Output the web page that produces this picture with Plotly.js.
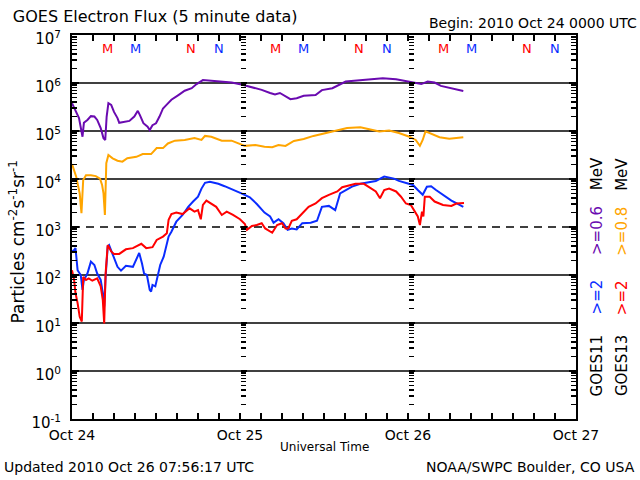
<!DOCTYPE html>
<html>
<head>
<meta charset="utf-8">
<script src="https://cdn.plot.ly/plotly-3.0.1.min.js"></script>
<style>html,body{margin:0;padding:0;background:#fff;}#chart{width:640px;height:480px;}</style>
</head>
<body>
<div id="chart"></div>
<script>
// ---- Data (hours after 2010-10-24 00:00 UTC, flux in particles cm^-2 s^-1 sr^-1) ----
const g11E06Hours = [0,0.5,1.0,1.5,1.7,2.2,2.7,3.2,3.6,4.1,4.5,4.75,4.95,5.2,5.6,6.0,6.5,6.75,7.5,8.2,8.9,9.4,9.7,10.2,10.8,11.1,11.5,12.0,12.5,13.0,13.5,14.2,15.2,16.1,17.1,17.8,18.7,19.9,21.4,22.8,24.2,25.7,27.1,28.3,29.0,29.7,30.5,31.2,32.1,33.1,34.8,35.7,37.2,38.1,39.1,40.3,41.2,42.4,44.4,46.3,48.2,49.9,50.8,51.8,52.7,53.9,54.9,55.9];
const g11E06Flux  = [3.8e5,2.75e5,1.86e5,7.6e4,1.48e5,1.7e5,2.04e5,2.0e5,1.7e5,1.15e5,7.1e4,6.5e4,2.0e5,3.8e5,3.5e5,2.5e5,1.86e5,1.48e5,1.55e5,1.62e5,2.0e5,2.63e5,2.14e5,1.45e5,1.23e5,1.05e5,1.32e5,1.45e5,2.0e5,2.95e5,3.5e5,4.47e5,5.6e5,6.9e5,7.8e5,9.5e5,1.15e6,1.12e6,1.05e6,1.02e6,9.3e5,8.3e5,7.2e5,6.2e5,5.75e5,6.2e5,5.4e5,4.6e5,4.8e5,5.4e5,5.6e5,7.1e5,7.8e5,9.1e5,1.07e6,1.12e6,1.15e6,1.2e6,1.26e6,1.2e6,1.07e6,9.5e5,1.07e6,1.02e6,8.7e5,7.9e5,7.4e5,6.8e5];

const g13E08Hours = [0,0.3,0.6,0.9,1.1,1.35,1.6,2.0,2.7,3.4,4.0,4.3,4.5,4.7,4.9,5.2,5.8,6.5,7.2,7.9,9.2,10.1,11.3,12.1,13.0,13.7,14.7,16.1,17.5,18.5,19.0,19.9,21.4,22.8,24.0,24.7,26.2,27.5,28.6,29.5,30.5,31.7,33.1,34.5,36.0,37.4,39.3,41.2,42.4,43.9,45.3,46.7,48.2,49.1,49.7,50.1,50.5,51.3,52.5,53.9,55.9];
const g13E08Flux  = [2.04e4,1.55e4,1.12e4,6.9e3,5.0e3,1.95e3,9.5e3,1.2e4,1.2e4,1.15e4,1.02e4,7.5e3,5.0e3,1.78e3,2.14e4,3.16e4,2.7e4,2.4e4,2.3e4,2.7e4,2.9e4,3.3e4,3.3e4,4.4e4,4.4e4,5.5e4,6.3e4,6.5e4,7.1e4,6.5e4,7.9e4,7.6e4,6.3e4,6.3e4,5.5e4,4.9e4,5.1e4,4.7e4,4.6e4,5.1e4,4.9e4,6.2e4,6.8e4,7.9e4,8.9e4,1.0e5,1.15e5,1.2e5,1.1e5,9.8e4,1.02e5,9.1e4,7.6e4,6.5e4,4.9e4,6.5e4,9.8e4,8.7e4,7.4e4,6.9e4,7.4e4];

const g11E2Hours = [0,0.3,0.5,0.8,1.25,1.5,1.7,2.2,2.7,3.2,3.6,4.1,4.4,4.6,4.8,5.1,5.3,5.8,6.5,7.0,7.7,8.7,9.4,9.6,10.0,10.3,10.7,11.1,11.3,11.5,11.9,12.3,12.6,13.1,13.5,13.8,14.2,14.9,15.8,16.6,17.3,18.0,18.5,19.0,19.7,20.9,21.8,23.0,24.2,25.4,26.4,27.5,28.3,28.8,29.5,30.2,30.8,31.4,32.1,32.9,34.1,35.0,35.7,36.7,37.6,38.3,39.1,40.0,41.2,42.0,43.4,44.6,46.0,46.7,47.7,48.7,49.4,50.1,50.7,51.3,52.0,53.0,54.2,55.1,55.9];
const g11E2Flux  = [310,330,363,126,100,49,79,107,190,162,107,79,42,22,91,389,420,282,148,123,155,148,240,288,174,107,100,49,45,62,58,107,162,240,389,631,794,1290,1780,2630,3390,4270,6310,8320,8710,7940,7080,6030,5010,4170,3020,2000,1660,1230,1450,1200,871,933,891,1200,1230,1350,2630,2750,2240,5010,5890,6920,7940,8320,9120,11200,10200,9120,8130,7500,5890,4680,6920,7080,5890,4680,3550,3020,2630];

const g13E2Hours = [0,0.3,0.5,0.8,1.1,1.4,1.6,2.0,2.4,2.9,3.6,4.1,4.4,4.6,4.8,5.1,5.6,6.0,6.75,7.7,8.7,9.9,10.6,11.5,12.1,13.0,13.55,13.8,14.2,14.9,15.8,16.8,17.5,18.0,18.4,18.7,19.2,19.9,20.6,21.4,22.1,23.0,24.0,24.7,25.0,25.7,26.4,27.1,27.6,28.6,29.3,30.0,30.5,30.9,31.4,32.1,32.9,33.8,34.8,35.7,36.7,37.9,38.6,39.6,40.5,41.7,42.7,43.4,44.0,44.6,45.3,46.3,47.0,47.7,48.4,49.0,49.4,49.7,50.0,50.2,50.4,51.1,51.8,53.0,54.2,54.9,56.0];
const g13E2Flux  = [126,79,42,26,13.5,10.7,91,79,85,76,85,58,30,9.8,107,420,309,275,275,343,363,447,363,380,537,631,741,1410,1860,2000,1860,2450,2090,2240,1450,2880,3550,3020,2630,1780,2090,1780,1450,1150,871,1050,1100,1200,933,759,1100,1200,933,933,1350,1450,1950,2630,3090,3980,4680,5500,6760,7500,7940,7940,6310,5500,3980,5890,6310,5500,4270,3090,2880,2090,1660,1100,2090,1660,4270,4270,3390,2880,2750,3090,3160];

// Local midnight (M) / noon (N) markers: hours after start
const markerHours  = [5, 9, 17, 21, 29, 33, 41, 45, 53, 57, 65, 69];
const markerLabels = ['M','M','N','N','M','M','N','N','M','M','N','N'];
const markerSat    = ['13','11','13','11','13','11','13','11','13','11','13','11'];

const dayLabels = ['Oct 24', 'Oct 25', 'Oct 26', 'Oct 27'];
const dayHours  = [0, 24, 48, 72];
const yTickVals = [0.1, 1, 10, 100, 1e3, 1e4, 1e5, 1e6, 1e7];
const yTickText = ['10<sup>-1</sup>','10<sup>0</sup>','10<sup>1</sup>','10<sup>2</sup>','10<sup>3</sup>','10<sup>4</sup>','10<sup>5</sup>','10<sup>6</sup>','10<sup>7</sup>'];
const gridDecades = [1, 10, 100, 1e3, 1e4, 1e5, 1e6];
const dashedDecade = 1e3;

// ---- Styling ----
const C_PURPLE = '#6a0ab0', C_ORANGE = '#ffa500', C_BLUE = '#0a2cff', C_RED = '#ff0000';
const satColor = {'11': C_BLUE, '13': C_RED};
const FONT = 'DejaVu Sans, sans-serif';

const START = Date.UTC(2010, 9, 24);
const HOUR = 3600000;
const toMs = h => START + h * HOUR;

function mk(hours, flux, color) {
  return {x: hours.map(toMs), y: flux, type: 'scatter', mode: 'lines',
          line: {color: color, width: 2}, hoverinfo: 'skip', showlegend: false};
}
const traces = [
  mk(g11E06Hours, g11E06Flux, C_PURPLE),
  mk(g13E08Hours, g13E08Flux, C_ORANGE),
  mk(g11E2Hours, g11E2Flux, C_BLUE),
  mk(g13E2Hours, g13E2Flux, C_RED),
];
// invisible helpers so the day-boundary tick columns are drawn
traces.push({x: [toMs(0)], y: [1], yaxis: 'y2', mode: 'markers', marker: {opacity: 0}, hoverinfo: 'skip', showlegend: false});
traces.push({x: [toMs(0)], y: [1], yaxis: 'y3', mode: 'markers', marker: {opacity: 0}, hoverinfo: 'skip', showlegend: false});

const minorVals = [];
for (let e = -1; e < 7; e++) for (let m = 2; m <= 9; m++) minorVals.push(m * Math.pow(10, e));

const shapes = gridDecades.map(v => ({
  type: 'line', xref: 'paper', yref: 'y', x0: 0, x1: 1, y0: v, y1: v,
  line: {color: 'black', width: 1.5, dash: v === dashedDecade ? '8px,6px' : 'solid'}, layer: 'below'
}));

const annotations = [];
markerHours.forEach((h, i) => annotations.push({
  x: toMs(h), xref: 'x', y: 0.966, yref: 'paper', text: markerLabels[i], showarrow: false,
  font: {family: FONT, size: 13, color: satColor[markerSat[i]]}, xanchor: 'center', yanchor: 'middle'
}));
function txt(text, x, y, opts) {
  annotations.push(Object.assign({text: text, x: x, y: y, xref: 'paper', yref: 'paper', showarrow: false,
    font: {family: FONT, size: 14, color: 'black'}, xanchor: 'center', yanchor: 'middle'}, opts || {}));
}
txt('Begin: 2010 Oct 24 0000 UTC', 1.125, 1.031, {xanchor: 'right'});
txt('Universal Time', 0.5, -0.073, {font: {family: FONT, size: 12, color: 'black'}});
txt('Updated 2010 Oct 26 07:56:17 UTC', -0.139, -0.125, {xanchor: 'left'});
txt('NOAA/SWPC Boulder, CO USA', 1.121, -0.125, {xanchor: 'right'});
txt('Particles cm<sup>-2</sup>s<sup>-1</sup>sr<sup>-1</sup>', -0.109, 0.46, {textangle: -90, font: {family: FONT, size: 17, color: 'black'}});
// right-side legend
const col1 = 1.042, col2 = 1.091;
const lf = c => ({family: FONT, size: 15, color: c});
txt('GOES11', col1, 0.14, {textangle: -90, font: lf('black')});
txt('&gt;=2', col1, 0.317, {textangle: -90, font: lf(C_BLUE)});
txt('&gt;=0.6', col1, 0.49, {textangle: -90, font: lf(C_PURPLE)});
txt('MeV', col1, 0.638, {textangle: -90, font: lf('black')});
txt('GOES13', col2, 0.14, {textangle: -90, font: lf('black')});
txt('&gt;=2', col2, 0.317, {textangle: -90, font: lf(C_RED)});
txt('&gt;=0.8', col2, 0.49, {textangle: -90, font: lf(C_ORANGE)});
txt('MeV', col2, 0.638, {textangle: -90, font: lf('black')});

const yRange = [-1, 7];
const freeY = pos => ({
  type: 'log', range: yRange, overlaying: 'y', anchor: 'free', position: pos, side: 'left',
  showline: false, showgrid: false, zeroline: false, showticklabels: false,
  tickmode: 'array', tickvals: yTickVals, ticks: 'inside', ticklen: 6, tickcolor: 'black', tickwidth: 1.5,
  minor: {tickmode: 'array', tickvals: minorVals, ticks: 'inside', ticklen: 5, tickcolor: 'black', tickwidth: 1.5, showgrid: false}
});

const layout = {
  width: 640, height: 480,
  margin: {l: 72, r: 64, t: 35, b: 61},
  paper_bgcolor: 'white', plot_bgcolor: 'white',
  font: {family: FONT, color: 'black'},
  showlegend: false,
  title: {text: 'GOES Electron Flux (5 minute data)', x: 0.02, xref: 'container', xanchor: 'left',
          y: 0.966, yref: 'container', yanchor: 'middle', font: {family: FONT, size: 16, color: 'black'}},
  xaxis: {
    type: 'date', range: [toMs(0), toMs(72)],
    tickmode: 'array', tickvals: dayHours.map(toMs), ticktext: dayLabels,
    ticks: 'inside', ticklen: 6, tickwidth: 1.5, tickcolor: 'black',
    showline: true, linecolor: 'black', linewidth: 2, mirror: 'allticks',
    showgrid: false, zeroline: false,
    tickfont: {family: FONT, size: 14, color: 'black'}, ticklabelstandoff: 2,
    minor: {tickmode: 'linear', tick0: toMs(0), dtick: 3 * HOUR, ticks: 'inside', ticklen: 4, tickwidth: 1.5, tickcolor: 'black', showgrid: false}
  },
  yaxis: {
    type: 'log', range: yRange,
    tickmode: 'array', tickvals: yTickVals, ticktext: yTickText,
    ticks: 'inside', ticklen: 7, tickwidth: 1.5, tickcolor: 'black',
    showline: true, linecolor: 'black', linewidth: 2, mirror: 'allticks',
    showgrid: false, zeroline: false,
    tickfont: {family: FONT, size: 15, color: 'black'}, ticklabelstandoff: 6, ticklabelshift: 4,
    minor: {tickmode: 'array', tickvals: minorVals, ticks: 'inside', ticklen: 5, tickwidth: 1.5, tickcolor: 'black', showgrid: false}
  },
  yaxis2: freeY(1 / 3),
  yaxis3: freeY(2 / 3),
  shapes: shapes,
  annotations: annotations
};

Plotly.newPlot('chart', traces, layout, {staticPlot: true, displayModeBar: false});
</script>
</body>
</html>
